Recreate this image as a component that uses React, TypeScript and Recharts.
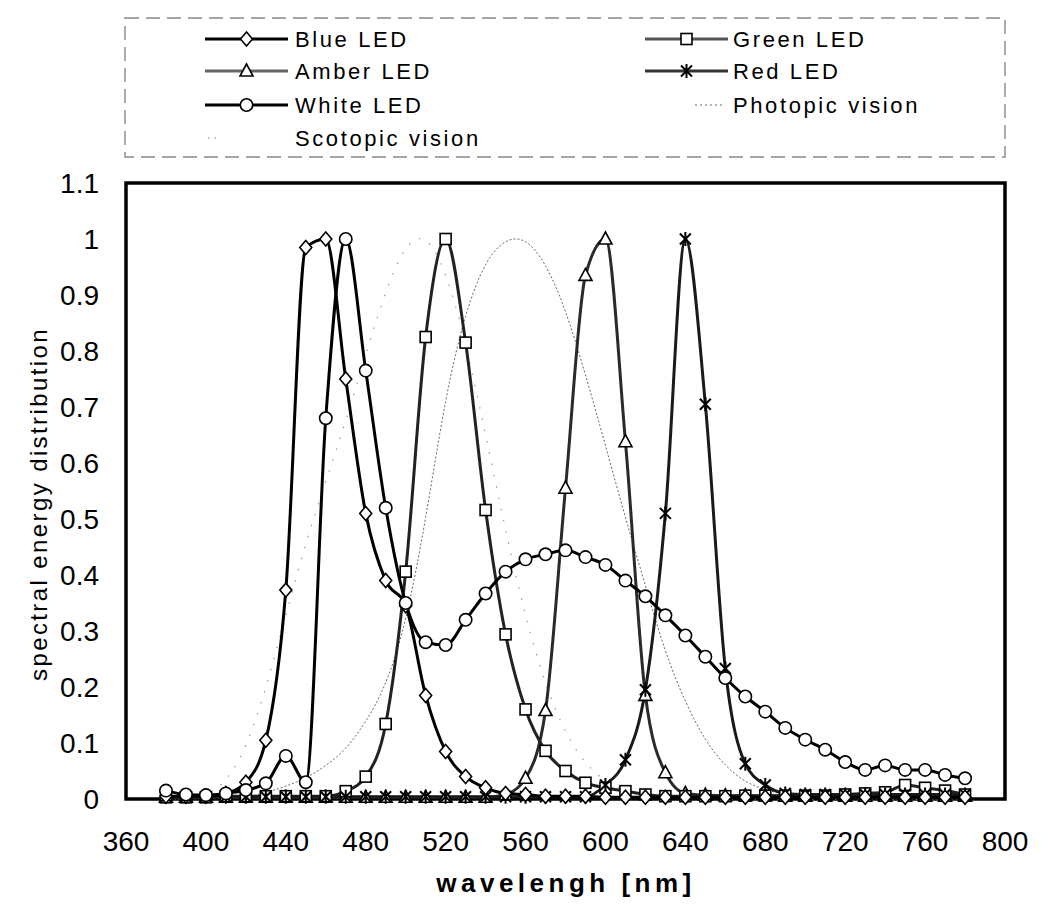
import React from "react";
import { LineChart, Line, XAxis, YAxis, ReferenceArea } from "recharts";

const wavelengths = [
  380, 390, 400, 410, 420, 430, 440, 450, 460, 470, 480, 490, 500, 510, 520, 530, 540, 550, 560, 570,
  580, 590, 600, 610, 620, 630, 640, 650, 660, 670, 680, 690, 700, 710, 720, 730, 740, 750, 760, 770, 780,
];

const blueLED = [
  0.005, 0.005, 0.005, 0.01, 0.03, 0.105, 0.373, 0.985, 1.0, 0.75, 0.51, 0.39, 0.345, 0.185, 0.085, 0.04, 0.02, 0.01, 0.008, 0.005,
  0.005, 0.005, 0.003, 0.003, 0.003, 0.003, 0.003, 0.003, 0.003, 0.003, 0.003, 0.003, 0.003, 0.003, 0.003, 0.003, 0.003, 0.003, 0.003, 0.003, 0.003,
];

const greenLED = [
  0.003, 0.003, 0.003, 0.005, 0.005, 0.005, 0.005, 0.005, 0.005, 0.014, 0.04, 0.134, 0.406, 0.825, 1.0, 0.815, 0.516, 0.294, 0.16, 0.086,
  0.05, 0.029, 0.02, 0.014, 0.008, 0.005, 0.005, 0.005, 0.005, 0.006, 0.006, 0.006, 0.006, 0.006, 0.008, 0.01, 0.012, 0.025, 0.02, 0.015, 0.008,
];

const amberLED = [
  0.003, 0.003, 0.003, 0.003, 0.003, 0.003, 0.003, 0.003, 0.003, 0.003, 0.003, 0.003, 0.003, 0.003, 0.003, 0.003, 0.003, 0.008, 0.037, 0.158,
  0.555, 0.935, 1.0, 0.638, 0.185, 0.047, 0.01, 0.007, 0.006, 0.006, 0.006, 0.005, 0.005, 0.005, 0.005, 0.005, 0.005, 0.005, 0.005, 0.005, 0.005,
];

const redLED = [
  0.004, 0.004, 0.004, 0.004, 0.004, 0.004, 0.004, 0.004, 0.004, 0.004, 0.004, 0.004, 0.004, 0.004, 0.004, 0.004, 0.004, 0.004, 0.004, 0.004,
  0.004, 0.004, 0.025, 0.07, 0.195, 0.51, 1.0, 0.705, 0.233, 0.063, 0.025, 0.01, 0.008, 0.008, 0.008, 0.008, 0.008, 0.008, 0.008, 0.008, 0.008,
];

const whiteLED = [
  0.015, 0.008, 0.007, 0.01, 0.016, 0.028, 0.077, 0.03, 0.68, 1.0, 0.765, 0.52, 0.35, 0.28, 0.275, 0.32, 0.367, 0.406, 0.428, 0.437,
  0.444, 0.432, 0.418, 0.39, 0.362, 0.328, 0.292, 0.254, 0.216, 0.183, 0.156, 0.127, 0.106, 0.088, 0.066, 0.052, 0.06, 0.052, 0.052, 0.043, 0.037,
];

const photopic = [
  0.00004, 0.00012, 0.0004, 0.0012, 0.004, 0.0116, 0.023, 0.038, 0.06, 0.091, 0.139, 0.208, 0.323, 0.503, 0.71, 0.862, 0.954, 0.995, 0.995, 0.952,
  0.87, 0.757, 0.631, 0.503, 0.381, 0.265, 0.175, 0.107, 0.061, 0.032, 0.017, 0.0082, 0.0041, 0.0021, 0.00105, 0.00052, 0.00025, 0.00012, 0.00006, 0.00003, 0.000015,
];

const scotopic = [
  0.000589, 0.002209, 0.00929, 0.03484, 0.0966, 0.1998, 0.3281, 0.455, 0.567, 0.676, 0.793, 0.904, 0.982, 0.997, 0.935, 0.811, 0.65, 0.481, 0.3288, 0.2076,
  0.1212, 0.0655, 0.03315, 0.01593, 0.00737, 0.003335, 0.001497, 0.000677, 0.000313, 0.000148, 0.0000715, 0.0000353, 0.0000178, 0.0000091, 0.0000047, 0.0000025, 0.0000014, 0.0000008, 0.0000005, 0.0000003, 0.0000002,
];

const xTicks = [360, 400, 440, 480, 520, 560, 600, 640, 680, 720, 760, 800];
const yTicks = [0, 0.1, 0.2, 0.3, 0.4, 0.5, 0.6, 0.7, 0.8, 0.9, 1, 1.1];

const legendNames = [
  "Blue LED",
  "Green LED",
  "Amber LED",
  "Red LED",
  "White LED",
  "Photopic vision",
  "Scotopic vision",
];

const data = wavelengths.map((w, i) => ({
  w,
  blue: blueLED[i],
  green: greenLED[i],
  amber: amberLED[i],
  red: redLED[i],
  white: whiteLED[i],
  photopic: photopic[i],
  scotopic: scotopic[i],
}));

const FONT = "'Liberation Sans', Arial, sans-serif";
const W = 1045;
const H = 896;

type MarkKind = "diamond" | "square" | "triangle" | "star" | "circle";

function mark(kind: MarkKind, cx: number, cy: number, key?: string | number) {
  const sw = 1.6;
  if (kind === "diamond") {
    return (
      <path key={key} d={`M${cx},${cy - 7}L${cx + 6},${cy}L${cx},${cy + 7}L${cx - 6},${cy}Z`} fill="#fff" stroke="#000" strokeWidth={sw} />
    );
  }
  if (kind === "square") {
    return <rect key={key} x={cx - 5.5} y={cy - 5.5} width={11} height={11} fill="#fff" stroke="#000" strokeWidth={sw} />;
  }
  if (kind === "triangle") {
    return (
      <path key={key} d={`M${cx},${cy - 7}L${cx + 6.5},${cy + 5}L${cx - 6.5},${cy + 5}Z`} fill="#fff" stroke="#000" strokeWidth={sw} />
    );
  }
  if (kind === "star") {
    return (
      <path
        key={key}
        d={`M${cx - 5.5},${cy - 5.5}L${cx + 5.5},${cy + 5.5}M${cx + 5.5},${cy - 5.5}L${cx - 5.5},${cy + 5.5}M${cx},${cy - 7}L${cx},${cy + 7}`}
        fill="none"
        stroke="#000"
        strokeWidth={2}
      />
    );
  }
  return <circle key={key} cx={cx} cy={cy} r={6.2} fill="#fff" stroke="#000" strokeWidth={sw} />;
}

const dotFn = (kind: MarkKind) => (p: any) => {
  if (p == null || p.cx == null || p.cy == null || isNaN(p.cx) || isNaN(p.cy)) {
    return <g key={`e-${kind}-${p?.index}`} />;
  }
  return mark(kind, p.cx, p.cy, `${kind}-${p.index}`);
};

const YTitle = () => (
  <text
    x={30}
    y={496}
    transform="rotate(-90 30 496)"
    textAnchor="middle"
    dominantBaseline="central"
    fontFamily={FONT}
    fontSize={24}
    letterSpacing={2.4}
    fill="#000"
  >
    spectral energy distribution
  </text>
);

const XTitle = () => (
  <text x={558} y={884} textAnchor="middle" fontFamily={FONT} fontSize={26} fontWeight="bold" letterSpacing={4.5} fill="#000">
    wavelengh [nm]
  </text>
);

function LegendBox() {
  const rows = [31, 63, 97, 130];
  const col1 = { x1: 197, x2: 280, tx: 287 };
  const col2 = { x1: 637, x2: 720, tx: 725 };
  const textProps = {
    fontFamily: FONT,
    fontSize: 22,
    letterSpacing: 2.6,
    fill: "#000",
    dominantBaseline: "central" as const,
  };
  const sample = (col: typeof col1, y: number, color: string, width: number, kind: MarkKind) => (
    <g>
      <line x1={col.x1} x2={col.x2} y1={y} y2={y} stroke={color} strokeWidth={width} />
      {mark(kind, (col.x1 + col.x2) / 2, y)}
    </g>
  );
  return (
    <svg width={W} height={160} style={{ position: "absolute", left: 0, top: 0 }}>
      <rect x={117} y={10} width={880} height={139} fill="none" stroke="#888" strokeWidth={1.4} strokeDasharray="14 7" />
      {sample(col1, rows[0], "#000", 3, "diamond")}
      <text x={col1.tx} y={rows[0]} {...textProps}>{legendNames[0]}</text>
      {sample(col2, rows[0], "#555", 3, "square")}
      <text x={col2.tx} y={rows[0]} {...textProps}>{legendNames[1]}</text>
      {sample(col1, rows[1], "#666", 3, "triangle")}
      <text x={col1.tx} y={rows[1]} {...textProps}>{legendNames[2]}</text>
      {sample(col2, rows[1], "#333", 3, "star")}
      <text x={col2.tx} y={rows[1]} {...textProps}>{legendNames[3]}</text>
      {sample(col1, rows[2], "#000", 3, "circle")}
      <text x={col1.tx} y={rows[2]} {...textProps}>{legendNames[4]}</text>
      <line x1={687} x2={716} y1={rows[2]} y2={rows[2]} stroke="#666" strokeWidth={1} strokeDasharray="2 3" />
      <text x={col2.tx} y={rows[2]} {...textProps}>{legendNames[5]}</text>
      <line x1={200} x2={208} y1={rows[3]} y2={rows[3]} stroke="#888" strokeWidth={1.2} strokeDasharray="1.5 5" />
      <text x={col1.tx} y={rows[3]} {...textProps}>{legendNames[6]}</text>
    </svg>
  );
}

export default function App() {
  return (
    <div style={{ position: "relative", width: W, height: H, background: "#fff" }}>
      <LineChart width={W} height={H} data={data} margin={{ top: 175, right: 48, bottom: 45, left: 58 }}>
        <ReferenceArea x1={360} x2={800} y1={0} y2={1.1} fill="none" stroke="#000" strokeWidth={3.5} ifOverflow="visible" />
        <XAxis
          dataKey="w"
          type="number"
          domain={[360, 800]}
          ticks={xTicks}
          axisLine={false}
          tickLine={false}
          tickSize={8}
          tickMargin={24}
          height={60}
          tick={{ fontFamily: FONT, fontSize: 28, fill: "#000" }}
          label={<XTitle />}
          interval={0}
        />
        <YAxis
          type="number"
          domain={[0, 1.1]}
          ticks={yTicks}
          axisLine={false}
          tickLine={false}
          tickSize={8}
          tickMargin={19}
          width={60}
          tick={{ fontFamily: FONT, fontSize: 28, fill: "#000" }}
          tickFormatter={(v: number) => String(Math.round(v * 10) / 10)}
          label={<YTitle />}
          interval={0}
        />
        <Line dataKey="photopic" type="natural" stroke="#666" strokeWidth={1} strokeDasharray="2 2" dot={false} isAnimationActive={false} />
        <Line dataKey="scotopic" type="natural" stroke="#999" strokeWidth={1.2} strokeDasharray="1.5 10" dot={false} isAnimationActive={false} />
        <Line dataKey="amber" type="monotone" stroke="#2a2a2a" strokeWidth={3} dot={dotFn("triangle")} isAnimationActive={false} />
        <Line dataKey="green" type="monotone" stroke="#222" strokeWidth={3} dot={dotFn("square")} isAnimationActive={false} />
        <Line dataKey="red" type="monotone" stroke="#1a1a1a" strokeWidth={3} dot={dotFn("star")} isAnimationActive={false} />
        <Line dataKey="blue" type="monotone" stroke="#000" strokeWidth={3} dot={dotFn("diamond")} isAnimationActive={false} />
        <Line dataKey="white" type="monotone" stroke="#000" strokeWidth={3} dot={dotFn("circle")} isAnimationActive={false} />
      </LineChart>
      <LegendBox />
    </div>
  );
}
